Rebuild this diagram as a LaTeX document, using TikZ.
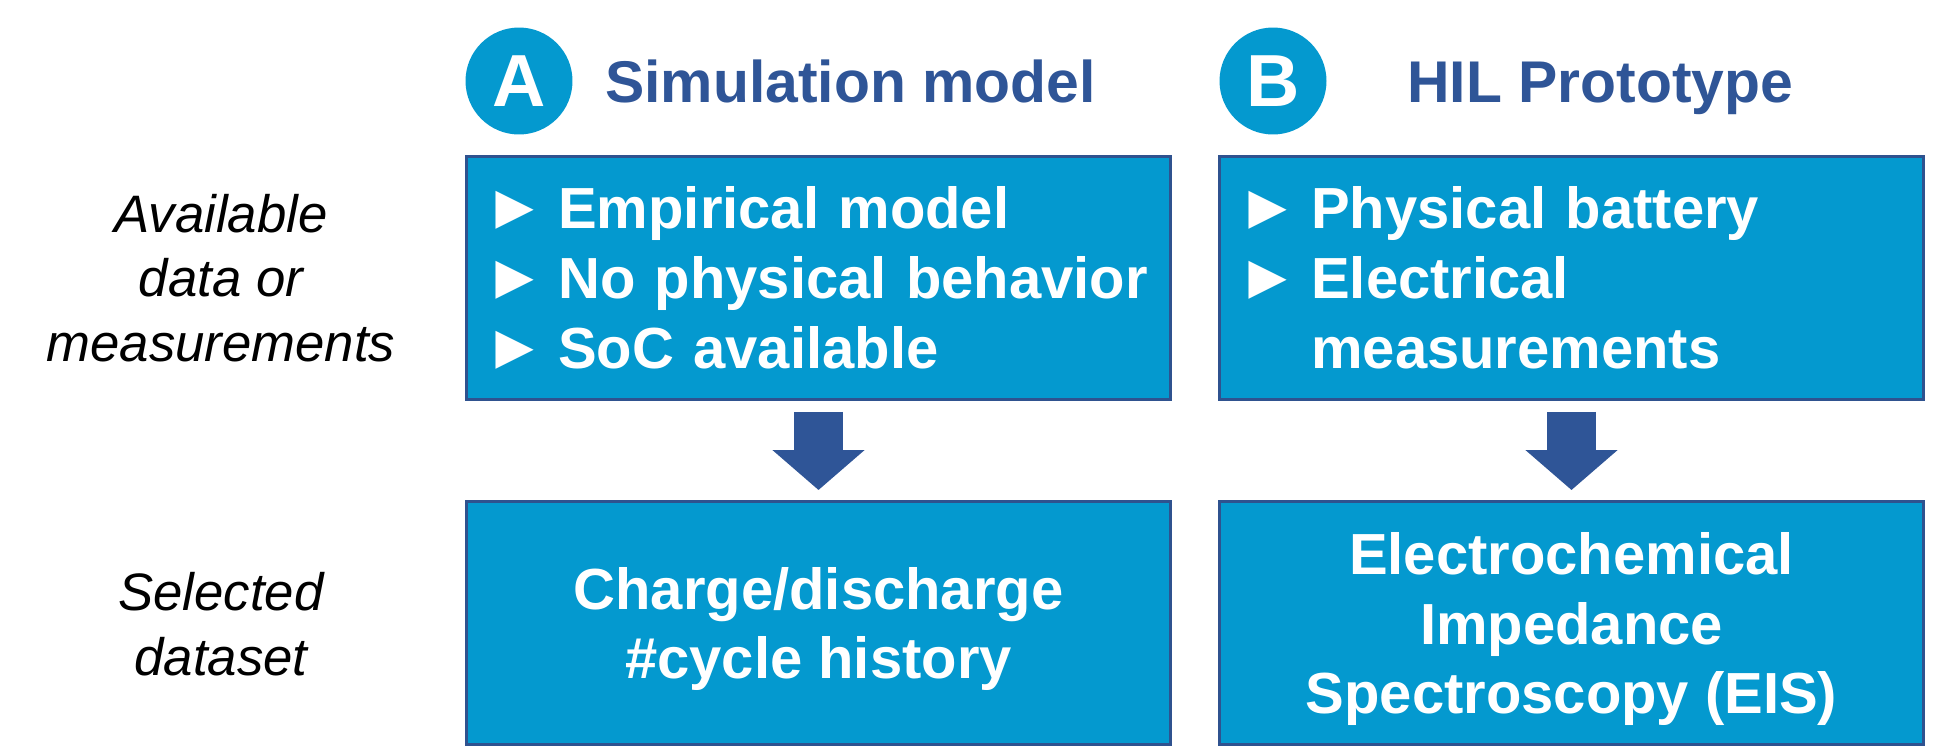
\documentclass[tikz,border=0pt]{standalone}
\usepackage{graphicx}
\usepackage{fontspec}
\setmainfont{Liberation Sans}
\usetikzlibrary{arrows.meta}

\definecolor{boxfill}{RGB}{4,153,207}
\definecolor{boxedge}{RGB}{47,82,143}
\definecolor{darkblue}{RGB}{47,85,151}

\newcommand\itempointer{\makebox[42.5pt][l]{\scalebox{1.1}{►}}}

\tikzset{
  box/.style={draw=boxedge, line width=0.06cm, fill=boxfill, text=white,
    font=\bfseries\fontsize{33}{39.8}\selectfont, inner sep=0pt,
    minimum width=14.08cm, minimum height=4.86cm},
  listbox/.style={box, align=left, text width=13.4cm},
  databox/.style={box, align=center, text depth=0pt},
  badge/.style={circle, fill=boxfill, text=white, inner sep=0pt,
    minimum size=2.14cm, font=\bfseries\fontsize{42}{48}\selectfont},
  heading/.style={anchor=base west, text=darkblue, inner sep=0pt,
    font=\bfseries\fontsize{33.5}{40}\selectfont},
  rowlabel/.style={align=center, font=\itshape\fontsize{30}{36.7}\selectfont},
  flow/.style={draw=darkblue, line width=0.98cm,
    -{Triangle[width=1.8cm, length=0.8cm]},
    shorten <=0.22cm, shorten >=0.2cm}
}

\begin{document}
\begin{tikzpicture}[x=0.02cm, y=-0.02cm]
  \useasboundingbox (0,0) rectangle (1934,747);

  % column heads
  \node[badge] (badgeA) at (519,81) {A};
  \node[heading] (headA) at (605,102) {Simulation model};
  \node[badge] (badgeB) at (1273,81) {B};
  \node[heading] (headB) at (1407,102) {HIL Prototype};

  % row labels
  \node[rowlabel] (available) at (221,278) {Available\\data or\\measurements};
  \node[rowlabel] (selected) at (221,624) {Selected\\dataset};

  % simulation model column
  \node[listbox] (simdata) at (818.5,278)
    {\itempointer Empirical model\\
     \itempointer No physical behavior\\
     \itempointer SoC available};
  \node[databox] (simset) at (818.5,623)
    {Charge/discharge\\\#cycle history};

  % HIL prototype column
  \node[listbox] (hildata) at (1571.5,278)
    {\itempointer Physical battery\\
     \itempointer Electrical\\
     \hphantom{\itempointer}measurements};
  \node[databox] (hilset) at (1571.5,623)
    {Electrochemical\\Impedance\\Spectroscopy (EIS)};

  \draw[flow] (simdata) -- (simset);
  \draw[flow] (hildata) -- (hilset);
\end{tikzpicture}
\end{document}
